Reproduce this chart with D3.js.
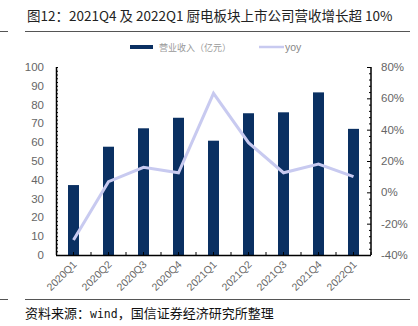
<!DOCTYPE html>
<html><head><meta charset="utf-8">
<script src="https://cdn.jsdelivr.net/npm/d3@7"></script>
<style>body{margin:0;background:#fff}svg{display:block}text{font-family:"Liberation Sans",Arial,sans-serif}</style>
</head><body>
<svg id="c" width="418" height="326"></svg>
<script>
const categories = ["2020Q1","2020Q2","2020Q3","2020Q4","2021Q1","2021Q2","2021Q3","2021Q4","2022Q1"];
const revenue = [37.2, 57.6, 67.4, 73.0, 60.8, 75.4, 75.9, 86.5, 67.1];
const yoy = [-30.4, 6.8, 16.0, 12.5, 63.2, 31.7, 12.5, 18.1, 10.0];
const leftTicks = [0,10,20,30,40,50,60,70,80,90,100];
const rightTicks = [-40,-20,0,20,40,60,80];

const svg = d3.select("#c");
const L = 56, R = 371, T = 67, B = 255;
const x = d3.scaleBand().domain(categories).range([L, R]).paddingInner(0.686).paddingOuter(0.343);
const band = d3.scaleBand().domain(categories).range([L, R]);
const yL = d3.scaleLinear().domain([0,100]).range([B, T]);
const yR = d3.scaleLinear().domain([-40,80]).range([B, T]);
const navy = "#0a3062", lav = "#c8caf0", grey = "#666";
const cjk = "'Noto Sans CJK SC',sans-serif";

// title
svg.append("text").attr("x", 27).attr("y", 21).attr("font-size", 13.5).attr("fill", "#222")
  .style("font-family", cjk).text("图12：2021Q4 及 2022Q1 厨电板块上市公司营收增长超 10%");
svg.append("line").attr("x1", 25).attr("x2", 410).attr("y1", 31.5).attr("y2", 31.5).attr("stroke", "#555").attr("stroke-width", 1);
svg.append("line").attr("x1", 0).attr("x2", 8).attr("y1", 31.5).attr("y2", 31.5).attr("stroke", "#555").attr("stroke-width", 1);
svg.append("line").attr("x1", 25).attr("x2", 410).attr("y1", 299.5).attr("y2", 299.5).attr("stroke", "#555").attr("stroke-width", 1);
svg.append("line").attr("x1", 0).attr("x2", 8).attr("y1", 299.5).attr("y2", 299.5).attr("stroke", "#555").attr("stroke-width", 1);
const src = svg.append("text").attr("x", 25).attr("y", 318).attr("font-size", 13).attr("fill", "#111").style("font-family", cjk);
src.append("tspan").text("资料来源：");
src.append("tspan").style("font-family", "'DejaVu Sans Mono',monospace").attr("font-size", 11.5).text("wind");
src.append("tspan").text("，国信证券经济研究所整理");

// legend
svg.append("rect").attr("x", 130).attr("y", 45).attr("width", 23).attr("height", 4).attr("fill", navy);
svg.append("text").attr("x", 159).attr("y", 51).attr("font-size", 9).attr("fill", "#999")
  .style("font-family", cjk).text("营业收入（亿元）");
svg.append("line").attr("x1", 259).attr("x2", 284).attr("y1", 47).attr("y2", 47).attr("stroke", lav).attr("stroke-width", 2.5);
svg.append("text").attr("x", 285).attr("y", 51).attr("font-size", 10.5).attr("fill", "#888").text("yoy");

// bars
svg.append("g").selectAll("rect").data(categories).join("rect")
  .attr("x", d => x(d)).attr("width", x.bandwidth())
  .attr("y", (d,i) => yL(revenue[i])).attr("height", (d,i) => yL(0) - yL(revenue[i]))
  .attr("fill", navy);

// line
const line = d3.line().x((d,i) => band(categories[i]) + band.bandwidth()/2).y(d => yR(d));
svg.append("path").datum(yoy).attr("d", line).attr("fill", "none").attr("stroke", lav).attr("stroke-width", 3).attr("stroke-linejoin", "miter");

// left axis
const gl = svg.append("g").attr("transform", `translate(${L},0)`);
gl.call(d3.axisLeft(yL).tickValues(d3.range(0, 101, 2)).tickSize(3).tickFormat(""));
gl.selectAll(".tick line").attr("x2", 2).attr("x1", 0).attr("stroke", "#000");
gl.select(".domain").attr("stroke", "#000").attr("stroke-width", 1.5).attr("d", `M0.5,${T}V${B}`);
leftTicks.forEach(v => {
  svg.append("text").attr("x", 44).attr("y", yL(v) + 4).attr("text-anchor", "end").attr("font-size", 11.5).attr("fill", grey).text(v);
});

// right axis
const gr = svg.append("g").attr("transform", `translate(${R},0)`);
gr.call(d3.axisRight(yR).tickValues(d3.range(-40, 81, 4)).tickSize(0).tickFormat(""));
gr.selectAll(".tick line").attr("x1", d => d % 20 === 0 ? -4 : -2).attr("x2", 0).attr("stroke", "#000");
gr.select(".domain").attr("stroke", "#000").attr("stroke-width", 1.5).attr("d", `M0,${T}V${B}`);
rightTicks.forEach(v => {
  svg.append("text").attr("x", 381).attr("y", yR(v) + 4).attr("font-size", 11.5).attr("fill", grey).text(v + "%");
});

// x axis
const gx = svg.append("g").attr("transform", `translate(0,${B})`);
gx.append("line").attr("x1", L).attr("x2", R).attr("y1", 0.5).attr("y2", 0.5).attr("stroke", "#000").attr("stroke-width", 1.5);
const tickXs = [];
categories.forEach(c => { tickXs.push(band(c) + band.bandwidth()/2); tickXs.push(band(c) + band.bandwidth()); });
gx.selectAll("line.t").data(tickXs).join("line").attr("class", "t")
  .attr("x1", d => d).attr("x2", d => d).attr("y1", 0).attr("y2", -3).attr("stroke", "#000");
gx.selectAll("text").data(categories).join("text")
  .attr("transform", d => `translate(${band(d) + band.bandwidth()/2 + 4},${10}) rotate(-45)`)
  .attr("text-anchor", "end").attr("font-size", 10.5).attr("fill", grey).text(d => d);
</script>
</body></html>
